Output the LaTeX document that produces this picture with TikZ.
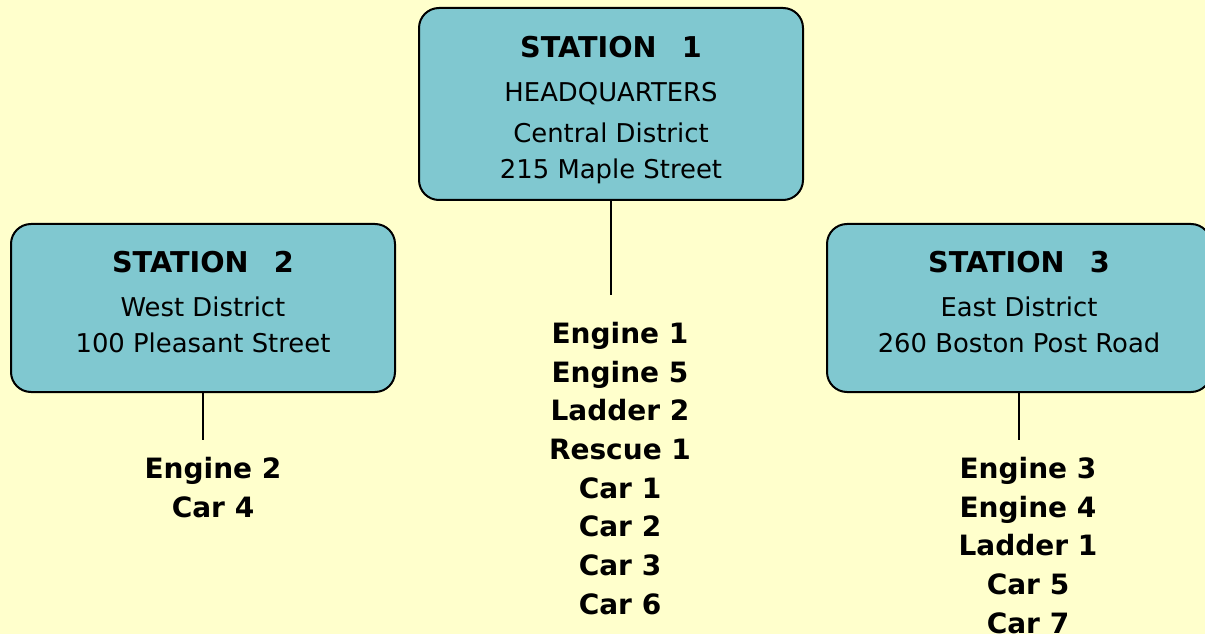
\documentclass[tikz,border=0pt]{standalone}
\usepackage{fontspec}
\setmainfont{DejaVu Sans}
\usepackage{tikz}
\usetikzlibrary{positioning}
\definecolor{paleyellow}{HTML}{FFFFCC}
\definecolor{stationteal}{HTML}{80C8D0}
\tikzset{
  stationbox/.style={draw, rounded corners=15pt, line width=1.5pt, fill=stationteal, minimum width=288pt, inner sep=0pt},
  stationtext/.style={anchor=north, align=center, inner sep=0pt, font=\fontsize{19.4}{27}\selectfont},
  unitlist/.style={anchor=north, align=center, inner sep=0pt, font=\bfseries\fontsize{21}{29}\selectfont},
  tieline/.style={line width=1.5pt}
}
\newcommand{\stationtitle}[1]{{\bfseries\fontsize{21.5}{27}\selectfont STATION\hspace{19pt}#1}}

\begin{document}
\begin{tikzpicture}[x=0.75pt, y=-0.75pt]
      \fill[paleyellow] (0,0) rectangle (1205,634);
      \clip (0,0) rectangle (1205,634);
      % stations
      \node[stationbox, minimum height=144pt] (st1) at (611,104) {};
      \node[stationbox, minimum height=126pt] (st2) at (203,308) {};
      \node[stationbox, minimum height=126pt] (st3) at (1019,308) {};
      \node[stationtext] (st1text) at (611,36) {\stationtitle{1}\\[6pt]HEADQUARTERS\\[4pt]Central District\\215 Maple Street};
      \node[stationtext] (st2text) at (203,251) {\stationtitle{2}\\[6pt]West District\\100 Pleasant Street};
      \node[stationtext] (st3text) at (1019,251) {\stationtitle{3}\\[6pt]East District\\260 Boston Post Road};
      % apparatus
      \node[unitlist] (st1units) at (620,322) {Engine 1\\Engine 5\\Ladder 2\\Rescue 1\\Car 1\\Car 2\\Car 3\\Car 6};
      \node[unitlist] (st2units) at (213,457) {Engine 2\\Car 4};
      \node[unitlist] (st3units) at (1028,457) {Engine 3\\Engine 4\\Ladder 1\\Car 5\\Car 7};
      \coordinate (st1end) at (611,295);
      \coordinate (st2end) at (203,440);
      \coordinate (st3end) at (1019,440);
      \draw[tieline] (st1.south) -- (st1end);
      \draw[tieline] (st2.south) -- (st2end);
      \draw[tieline] (st3.south) -- (st3end);
    \end{tikzpicture}
\end{document}
